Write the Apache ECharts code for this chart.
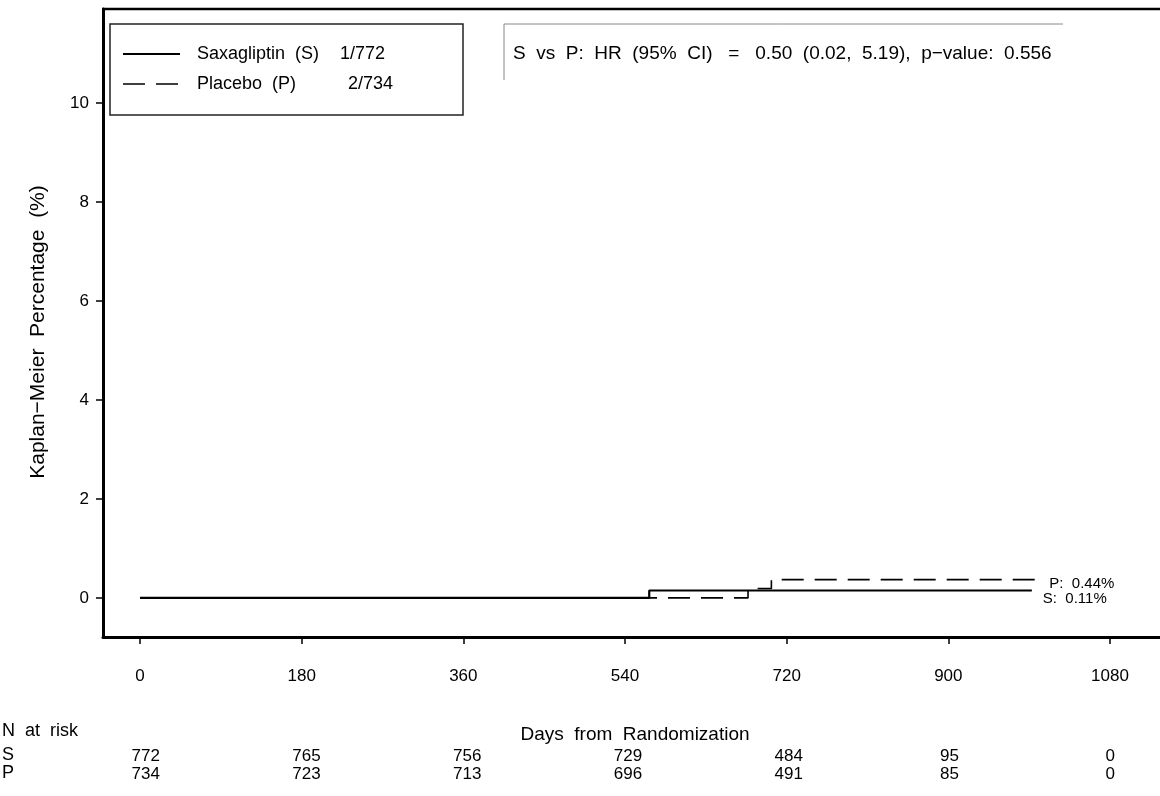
<!DOCTYPE html>
<html>
<head>
<meta charset="utf-8">
<script src="https://cdn.jsdelivr.net/npm/echarts@6/dist/echarts.min.js"></script>
<style>html,body{margin:0;padding:0;background:#fff}#c{width:1160px;height:796px}</style>
</head>
<body>
<div id="c"></div>
<script>
const xTicks = [0, 180, 360, 540, 720, 900, 1080];
const yTicks = [0, 2, 4, 6, 8, 10];
const sDays = [0, 567, 993];
const sPct = [0, 0.15, 0.15];
const pDays = [0, 677, 703, 998];
const pPct = [0, 0.19, 0.37, 0.37];
const riskS = [772, 765, 756, 729, 484, 95, 0];
const riskP = [734, 723, 713, 696, 491, 85, 0];
const legendNames = ['Saxagliptin  (S)', 'Placebo  (P)'];
const legendCounts = ['1/772', '2/734'];
const endLabels = ['S:  0.11%', 'P:  0.44%'];
const hrText = 'S  vs  P:  HR  (95%  CI)   =   0.50  (0.02,  5.19),  p\u2212value:  0.556';

const FONT = "'Liberation Sans', Arial, Helvetica, sans-serif";
const X_MIN = -41.2, X_MAX = 1135.7;

const chart = echarts.init(document.getElementById('c'), null, {renderer: 'canvas'});

function zip(a, b) { return a.map((v, i) => [v, b[i]]); }

function riskAxis(idx, arr) {
  return {
    type: 'value', gridIndex: idx, min: X_MIN, max: X_MAX,
    axisLine: {show: false}, axisTick: {show: false}, splitLine: {show: false},
    axisLabel: {
      customValues: xTicks, margin: 0, verticalAlign: 'middle',
      fontFamily: FONT, fontSize: 17, color: '#000',
      formatter: v => { const i = xTicks.indexOf(v); return i >= 0 ? String(arr[i]) : ''; }
    }
  };
}

const lineStyles = [
  {stroke: '#000', lineWidth: 2.2, lineDash: null},
  {stroke: '#000', lineWidth: 1.6, lineDash: [22, 11]}
];

const legendGraphics = [];
legendNames.forEach((name, i) => {
  const y = 54 + i * 30;
  legendGraphics.push({type: 'line', shape: {x1: 123, y1: y, x2: 180, y2: y}, style: lineStyles[i], silent: true});
  legendGraphics.push({type: 'text', x: 197, y: y, style: {text: name, font: '18px ' + FONT, fill: '#000', verticalAlign: 'middle'}, silent: true});
  legendGraphics.push({type: 'text', x: i === 0 ? 340 : 348, y: y, style: {text: legendCounts[i], font: '18px ' + FONT, fill: '#000', verticalAlign: 'middle'}, silent: true});
});

const option = {
  backgroundColor: '#fff',
  animation: false,
  grid: [
    {left: 103, right: 0, top: 9, height: 628},
    {left: 109, right: -6, top: 755, height: 1},
    {left: 109, right: -6, top: 773, height: 1}
  ],
  xAxis: [
    {
      type: 'value', gridIndex: 0, min: X_MIN, max: X_MAX,
      axisLine: {show: true, onZero: false, lineStyle: {color: '#000', width: 3}},
      axisTick: {show: true, customValues: xTicks, length: 7, lineStyle: {color: '#000', width: 1.5}},
      axisLabel: {customValues: xTicks, margin: 31, fontFamily: FONT, fontSize: 17, color: '#000', formatter: v => String(v)},
      splitLine: {show: false}
    },
    riskAxis(1, riskS),
    riskAxis(2, riskP)
  ],
  yAxis: [
    {
      type: 'value', gridIndex: 0, min: -0.79, max: 11.9,
      axisLine: {show: true, onZero: false, lineStyle: {color: '#000', width: 3}},
      axisTick: {show: true, customValues: yTicks, length: 7, lineStyle: {color: '#000', width: 1.5}},
      axisLabel: {customValues: yTicks, margin: 14, fontFamily: FONT, fontSize: 17, color: '#000'},
      splitLine: {show: false}
    },
    {type: 'value', gridIndex: 1, show: false},
    {type: 'value', gridIndex: 2, show: false}
  ],
  series: [
    {
      name: legendNames[0], type: 'line', xAxisIndex: 0, yAxisIndex: 0,
      step: 'end', symbol: 'none', data: zip(sDays, sPct),
      lineStyle: {color: '#000', width: 2.2, type: 'solid'},
      itemStyle: {color: '#000'},
      endLabel: {show: true, formatter: endLabels[0], fontFamily: FONT, fontSize: 15, color: '#000', offset: [3, 8]},
      z: 3
    },
    {
      name: legendNames[1], type: 'line', xAxisIndex: 0, yAxisIndex: 0,
      step: 'end', symbol: 'none', data: zip(pDays, pPct),
      lineStyle: {color: '#000', width: 1.6, type: [22, 11]},
      itemStyle: {color: '#000'},
      endLabel: {show: true, formatter: endLabels[1], fontFamily: FONT, fontSize: 15, color: '#000', offset: [5, 4]},
      z: 2
    }
  ],
  graphic: [
    {type: 'line', shape: {x1: 102, y1: 9, x2: 1160, y2: 9}, style: {stroke: '#000', lineWidth: 2.5}, silent: true},
    {type: 'rect', shape: {x: 110, y: 24, width: 353, height: 91}, style: {fill: null, stroke: '#222', lineWidth: 1.5}, silent: true},
    {type: 'line', shape: {x1: 504, y1: 24, x2: 1063, y2: 24}, style: {stroke: '#888', lineWidth: 1}, silent: true},
    {type: 'line', shape: {x1: 504, y1: 24, x2: 504, y2: 80}, style: {stroke: '#888', lineWidth: 1}, silent: true},
    {type: 'text', x: 513, y: 54, style: {text: hrText, font: '19px ' + FONT, fill: '#000', verticalAlign: 'middle'}, silent: true},
    {type: 'text', x: 38, y: 332, rotation: Math.PI / 2,
      style: {text: 'Kaplan\u2212Meier  Percentage  (%)', font: '21px ' + FONT, fill: '#000', align: 'center', verticalAlign: 'middle'}, silent: true},
    {type: 'text', x: 635, y: 735, style: {text: 'Days  from  Randomization', font: '19px ' + FONT, fill: '#000', align: 'center', verticalAlign: 'middle'}, silent: true},
    {type: 'text', x: 2, y: 731, style: {text: 'N  at  risk', font: '18px ' + FONT, fill: '#000', verticalAlign: 'middle'}, silent: true},
    {type: 'text', x: 2, y: 755, style: {text: 'S', font: '18px ' + FONT, fill: '#000', verticalAlign: 'middle'}, silent: true},
    {type: 'text', x: 2, y: 773, style: {text: 'P', font: '18px ' + FONT, fill: '#000', verticalAlign: 'middle'}, silent: true}
  ].concat(legendGraphics)
};
chart.setOption(option);
</script>
</body>
</html>
